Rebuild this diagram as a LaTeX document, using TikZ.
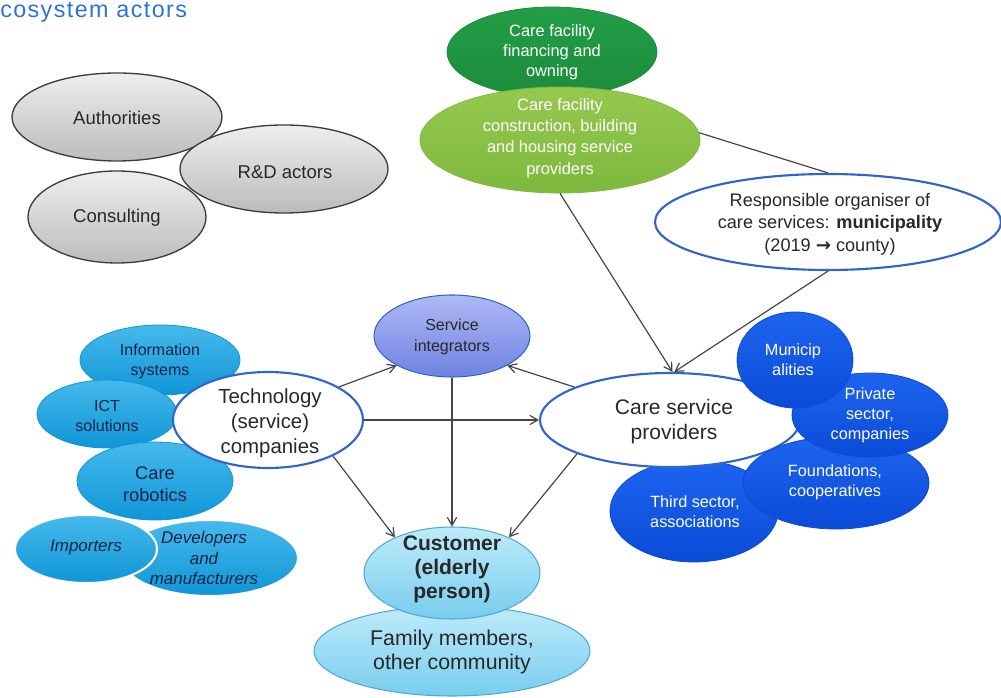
\documentclass[tikz,border=0pt]{standalone}
\usepackage{fontspec}
\setmainfont{Liberation Sans}
\newfontfamily\symfont{DejaVu Sans}
\usetikzlibrary{shapes.geometric,arrows.meta}
\definecolor{titleblue}{RGB}{45,115,215}
\definecolor{grayA}{RGB}{238,238,238}
\definecolor{grayB}{RGB}{188,188,188}
\definecolor{grayline}{RGB}{60,60,60}
\definecolor{dgreen}{RGB}{35,158,70}
\definecolor{dgreenB}{RGB}{28,140,60}
\definecolor{lgreen}{RGB}{150,200,80}
\definecolor{lgreenB}{RGB}{125,185,60}
\definecolor{outblue}{RGB}{50,100,205}
\definecolor{rblueA}{RGB}{30,100,240}
\definecolor{rblueB}{RGB}{10,75,215}
\definecolor{cyanA}{RGB}{70,185,235}
\definecolor{cyanB}{RGB}{15,150,215}
\definecolor{lavA}{RGB}{175,185,245}
\definecolor{lavB}{RGB}{110,130,225}
\definecolor{custA}{RGB}{190,235,250}
\definecolor{custB}{RGB}{120,205,238}
\definecolor{custline}{RGB}{80,170,215}
\definecolor{textdark}{RGB}{40,40,40}
\definecolor{navytext}{RGB}{25,35,70}
\definecolor{arrowgray}{RGB}{70,70,70}
\begin{document}
\begin{tikzpicture}[x=0.75pt,y=-0.75pt,
  E/.style 2 args={ellipse,inner sep=0pt,minimum width=#1*1.5pt,minimum height=#2*1.5pt},
  grayell/.style={top color=grayA,bottom color=grayB,draw=grayline,line width=1pt},
  dgell/.style={top color=dgreen,bottom color=dgreenB,draw=dgreenB,line width=0.6pt},
  lgell/.style={top color=lgreen,bottom color=lgreenB,draw=lgreenB,line width=0.6pt},
  whell/.style={fill=white,draw=outblue,line width=1.6pt},
  rbell/.style={top color=rblueA,bottom color=rblueB,draw=rblueB,line width=0.6pt},
  cyell/.style={top color=cyanA,bottom color=cyanB,draw=cyanB,line width=0.6pt},
  imell/.style={top color=cyanA,bottom color=cyanB,draw=white,line width=1.5pt},
  lavell/.style={top color=lavA,bottom color=lavB,draw=outblue,line width=0.8pt},
  custell/.style={top color=custA,bottom color=custB,draw=custline,line width=0.8pt},
  txt/.style={align=center,inner sep=0pt,text=textdark},
  wtxt/.style={align=center,inner sep=0pt,text=white},
  ntxt/.style={align=center,inner sep=0pt,text=navytext},
  conn/.style={draw=arrowgray,line width=0.9pt},
  arr/.style={conn,-{Straight Barb[length=6pt,width=7pt]}},
]
\useasboundingbox (0,0) rectangle (1001,698);

% title
\node[anchor=base west,inner sep=0pt,text=titleblue,font=\fontsize{17.5}{21}\selectfont\addfontfeature{LetterSpace=6}] (title) at (0,17.5) {cosystem actors};

% gray actors
\node[E={105}{44},grayell] (auth) at (117,117) {};
\node[txt,font=\fontsize{13.9}{17}\selectfont] (auth-t) at (117,118) {Authorities};
\node[E={89}{46},grayell] (cons) at (117,217) {};
\node[txt,font=\fontsize{13.9}{17}\selectfont] (cons-t) at (117,218) {Consulting};
\node[E={104}{44},grayell] (rd) at (284,169) {};
\node[txt,font=\fontsize{13.9}{17}\selectfont] (rd-t) at (285,172) {R\&D actors};

% green
\node[E={105}{45},dgell] (fin) at (552,52) {};
\node[wtxt,font=\fontsize{12.3}{15}\selectfont] (fin-t) at (552,52) {Care facility\\financing and\\owning};
\node[E={140}{53},lgell] (con) at (560,140) {};
\node[wtxt,font=\fontsize{12.3}{16}\selectfont] (con-t) at (560,138) {Care facility\\construction, building\\and housing service\\providers};

% responsible organiser
\node[E={173}{48},whell] (resp) at (828,222) {};
\node[txt,font=\fontsize{13.6}{16.9}\selectfont] (resp-t) at (830,224) {Responsible organiser of\\care services: \textbf{municipality}\\(2019 {\symfont\bfseries →} county)};

% technology side
\node[E={80}{35},cyell] (info) at (160,360) {};
\node[ntxt,font=\fontsize{12}{15}\selectfont] (info-t) at (160,361) {Information\\systems};
\node[E={70}{34},cyell] (ict) at (107,414) {};
\node[ntxt,font=\fontsize{12}{15}\selectfont] (ict-t) at (107,416) {ICT\\solutions};
\node[E={78}{39},cyell] (rob) at (155,481) {};
\node[ntxt,font=\fontsize{13.7}{16.5}\selectfont] (rob-t) at (155,484) {Care\\robotics};
\node[E={88}{38},imell] (dev) at (210,558) {};
\node[ntxt,font=\fontsize{12.7}{15.5}\itshape\selectfont] (dev-t) at (204,558) {Developers\\and\\manufacturers};
\node[E={71}{34},imell] (imp) at (86,549) {};
\node[ntxt,font=\fontsize{12.7}{15.5}\itshape\selectfont] (imp-t) at (86,547) {Importers};
\node[E={95}{48},whell] (tech) at (268,420) {};
\node[txt,font=\fontsize{15.3}{18.75}\selectfont] (tech-t) at (270,423) {Technology\\(service)\\companies};

% care service providers side
\node[E={84}{51},rbell] (third) at (694,511) {};
\node[E={130}{47},whell] (csp) at (670,420) {};
\node[txt,font=\fontsize{15.8}{18.75}\selectfont] (csp-t) at (674,422) {Care service\\providers};
\node[E={93}{46},rbell] (found) at (836,483) {};
\node[wtxt,font=\fontsize{12.2}{15}\selectfont] (found-t) at (835,482) {Foundations,\\cooperatives};
\node[wtxt,font=\fontsize{12.2}{15}\selectfont] (third-t) at (695,512) {Third sector,\\associations};
\node[E={78}{42},rbell] (priv) at (870,415) {};
\node[wtxt,font=\fontsize{12.2}{15}\selectfont] (priv-t) at (870,415) {Private\\sector,\\companies};
\node[E={58}{48},rbell] (muni) at (795,360) {};
\node[wtxt,font=\fontsize{12.2}{15}\selectfont] (muni-t) at (793,360) {Municip\\alities};

% centre
\node[E={78}{41},lavell] (si) at (452,336) {};
\node[txt,font=\fontsize{12}{15.75}\selectfont] (si-t) at (452,337) {Service\\integrators};
\node[E={138}{45},custell] (fam) at (452,651) {};
\node[txt,font=\fontsize{16}{17.5}\selectfont] (fam-t) at (452,652) {Family members,\\other community};
\node[E={88}{46},custell] (cust) at (452,573) {};
\node[txt,font=\fontsize{15.8}{18}\bfseries\selectfont] (cust-t) at (452,569) {Customer\\(elderly\\person)};

% connectors
\draw[conn] (con.3) -- (resp.north);
\draw[arr] (con.south) -- (csp.87);
\draw[arr] (resp.south) -- (csp.85);
\draw[arr] (tech.25) -- (si.208);
\draw[arr] (csp.161) -- (si.332);
\draw[arr] (tech.east) -- (csp.west);
\draw[arr] (si.south) -- (cust.north);
\draw[arr] (tech.331) -- (cust.148);
\draw[arr] (csp.200) -- (cust.32);
\end{tikzpicture}
\end{document}
